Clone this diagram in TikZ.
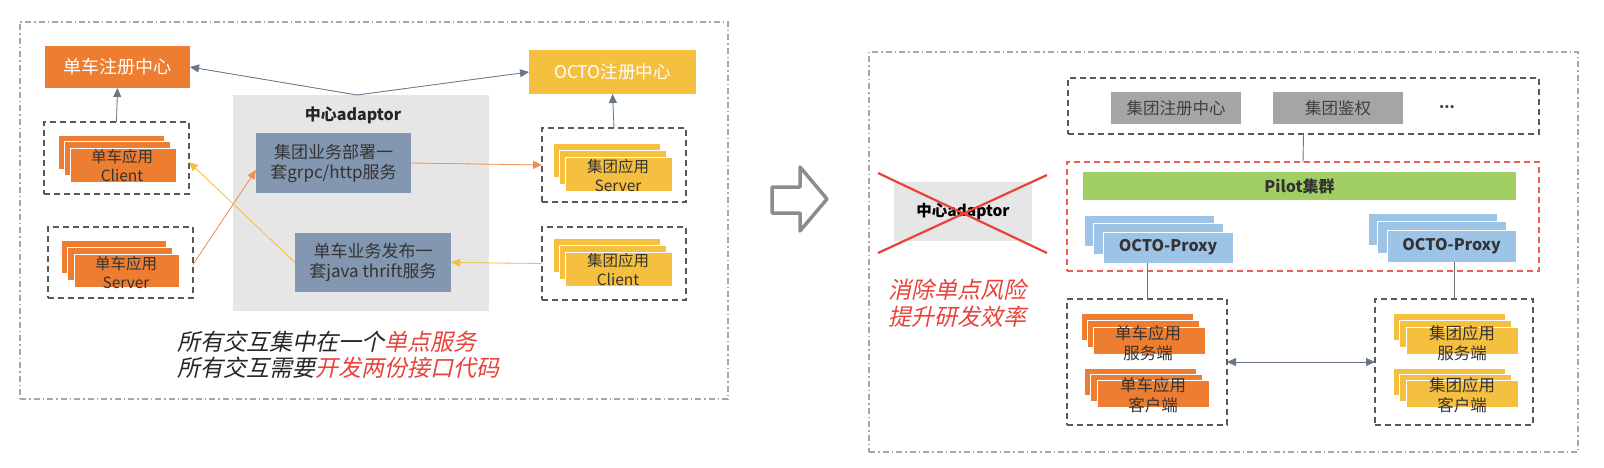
\documentclass[tikz,border=0pt]{standalone}
\usepackage{fontspec}
\setmainfont{Noto Sans CJK SC}
\newfontfamily\slfont{Noto Sans CJK SC}[FakeSlant=0.22]
\usetikzlibrary{arrows.meta}
\definecolor{orng}{HTML}{ED7D31}
\definecolor{gold}{HTML}{F5BF3F}
\definecolor{slate}{HTML}{8497B0}
\definecolor{adbg}{HTML}{E7E6E6}
\definecolor{gbox}{HTML}{A5A5A5}
\definecolor{pgreen}{HTML}{A2CF63}
\definecolor{lblue}{HTML}{9DC3E6}
\definecolor{redc}{HTML}{E8423A}
\definecolor{darkln}{HTML}{44546A}
\definecolor{txt}{HTML}{333333}
\newcommand\fs[2]{\fontsize{#1}{#2}\selectfont}
% stack: name, front-left x, front-top y, w, h, dx, dy, style
\newcommand\stk[8]{%
  \node[#8,anchor=north west,minimum width=#4,minimum height=#5] (#1b1) at ({#2-2*#6},{#3-2*#7}) {};
  \node[#8,anchor=north west,minimum width=#4,minimum height=#5] (#1b2) at ({#2-#6},{#3-#7}) {};
  \node[#8,anchor=north west,minimum width=#4,minimum height=#5] (#1) at (#2,#3) {};
}
\begin{document}
\begin{tikzpicture}[x=1pt,y=-1pt,
  box/.style={inner sep=0pt,outer sep=0pt},
  outerbox/.style={draw=black!35,line width=1.3pt,dash pattern=on 6pt off 3pt on 1.5pt off 3pt},
  dbox/.style={box,draw=black!65,line width=1.4pt,dash pattern=on 6pt off 4pt},
  ostk/.style={box,fill=orng,draw=white,line width=0.8pt},
  ystk/.style={box,fill=gold,draw=white,line width=0.8pt},
  bstk/.style={box,fill=lblue,draw=white,line width=0.8pt},
  stktxt/.style={text=txt,align=center,inner sep=0pt},
  arr/.style={-{Triangle[length=9pt,width=8pt]},line width=0.8pt},
  darr/.style={arr,draw=darkln!80,fill=darkln},
  oarr/.style={arr,draw=orng!85,fill=orng},
  yarr/.style={arr,draw=gold,fill=gold},
  gline/.style={draw=black!55,line width=0.9pt}
]
\useasboundingbox[fill=white] (0,0) rectangle (1604,468);

% ================= LEFT PANEL =================
\node[outerbox,box,anchor=north west,minimum width=708pt,minimum height=377pt] (lout) at (20,22) {};

\node[box,fill=orng,minimum width=145pt,minimum height=42pt,text=white,font=\fs{18}{20}] (lreg) at (117.5,67) {单车注册中心};
\node[box,fill=gold,minimum width=167pt,minimum height=44pt,text=white,font=\fs{17.5}{20}] (oreg) at (612.5,72) {OCTO注册中心};

\node[box,fill=adbg,minimum width=256pt,minimum height=216pt] (adapt) at (361,203) {};
\node[font=\bfseries\fs{16}{18},text=black!85,inner sep=0pt] (adtitle) at (353,115) {中心adaptor};
\node[box,fill=slate,minimum width=155pt,minimum height=60pt,align=center,text=txt,font=\fs{17}{20}] (grpc) at (333.5,163) {集团业务部署一\\套grpc/http服务};
\node[box,fill=slate,minimum width=156pt,minimum height=59pt,align=center,text=txt,font=\fs{17}{20}] (thrift) at (373,262.5) {单车业务发布一\\套java thrift服务};

% left client
\node[dbox,minimum width=145pt,minimum height=72pt] (lcli) at (116.5,158) {};
\stk{lclis}{70}{148}{106pt}{34pt}{6}{6.5}{ostk}
\node[stktxt,font=\fs{15.5}{19}] (lclit) at (122,166) {单车应用\\Client};
% left server
\node[dbox,minimum width=145pt,minimum height=71pt] (lsrv) at (120.5,262.5) {};
\stk{lsrvs}{74}{254}{105pt}{33pt}{6.5}{7}{ostk}
\node[stktxt,font=\fs{15.5}{19}] (lsrvt) at (126,272.5) {单车应用\\Server};
% right server
\node[dbox,minimum width=144pt,minimum height=74pt] (rsrv) at (614,165) {};
\stk{rsrvs}{565}{157}{107pt}{34pt}{6}{7}{ystk}
\node[stktxt,font=\fs{15.5}{19}] (rsrvt) at (618,176) {集团应用\\Server};
% right client
\node[dbox,minimum width=144pt,minimum height=73pt] (rcli) at (614,263.5) {};
\stk{rclis}{565}{252}{107pt}{34pt}{6}{7}{ystk}
\node[stktxt,font=\fs{15.5}{19}] (rclit) at (618,270) {集团应用\\Client};

% connectors
\coordinate (adtop) at (357,95);
\draw[darr] (adtop) -- (lreg.east);
\draw[darr] (adtop) -- (oreg.west);
\draw[darr] (lcli.north) -- (lreg.south);
\draw[darr] (rsrv.north) -- (oreg.south);
\draw[oarr] (grpc.east) -- (rsrv.west);
\draw[oarr] ([yshift=-2pt]lsrv.east) -- ([yshift=-7pt]grpc.west);
\draw[yarr] (thrift.west) -- ([yshift=-4pt]lcli.east);
\draw[yarr] (rcli.west) -- (thrift.east);

\node[anchor=west,inner sep=0pt,font=\slfont\fs{23}{26},text=black!85] (msg1) at (177,342) {所有交互集中在一个\textcolor{redc}{单点服务}};
\node[anchor=west,inner sep=0pt,font=\slfont\fs{23}{26},text=black!85] (msg2) at (177,368) {所有交互需要\textcolor{redc}{开发两份接口代码}};

% ================= HOLLOW ARROW =================
\draw[draw=black!45,line width=3.5pt,line join=round,fill=white]
  (772,187) -- (800,187) -- (800,167) -- (827,199) -- (800,231) -- (800,213) -- (772,213) -- cycle;

% ================= RIGHT PANEL =================
\node[outerbox,box,anchor=north west,minimum width=709pt,minimum height=400pt] (rout) at (869,52) {};

\node[box,fill=adbg,minimum width=138pt,minimum height=59pt,font=\bfseries\fs{15.5}{18},text=black] (xad) at (963,211.5) {中心adaptor};
\coordinate (x1) at (878,173); \coordinate (x2) at (1047,253);
\coordinate (x3) at (878,253); \coordinate (x4) at (1047,175);
\draw[redc,line width=2.2pt] (x1) -- (x2);
\draw[redc,line width=2.2pt] (x3) -- (x4);
\node[inner sep=0pt,align=center,font=\slfont\fs{23}{27},text=redc] (gain) at (957,303.5) {消除单点风险\\提升研发效率};

\node[dbox,minimum width=471pt,minimum height=56pt] (topbox) at (1303.5,106) {};
\node[box,fill=gbox,minimum width=130pt,minimum height=32pt,text=black!75,font=\fs{16.5}{19}] (greg) at (1176,108) {集团注册中心};
\node[box,fill=gbox,minimum width=130pt,minimum height=32pt,text=black!75,font=\fs{16.5}{19}] (gauth) at (1338,108) {集团鉴权};
\node[inner sep=0pt,font=\bfseries\fs{15}{18},text=black!75] (dots) at (1447,107) {...};

\node[box,draw=redc!85,line width=1.4pt,dash pattern=on 6pt off 4pt,minimum width=472pt,minimum height=109pt] (redbox) at (1303,216.5) {};
\node[box,fill=pgreen,minimum width=433pt,minimum height=28pt,font=\bfseries\fs{16}{18},text=txt] (pilot) at (1299.5,186) {Pilot集群};
\stk{pxl}{1103}{232}{130pt}{31pt}{9.5}{8.5}{bstk}
\node[inner sep=0pt,font=\bfseries\fs{16}{18},text=txt] (pxlt) at (pxl.center) {OCTO-Proxy};
\stk{pxr}{1387}{230}{129pt}{32pt}{9.5}{8.5}{bstk}
\node[inner sep=0pt,font=\bfseries\fs{16}{18},text=txt] (pxrt) at (pxr.center) {OCTO-Proxy};

\node[dbox,minimum width=160pt,minimum height=126pt] (lb) at (1147,362) {};
\node[dbox,minimum width=158pt,minimum height=126pt] (rb) at (1454,362) {};

\stk{lbs}{1093}{327}{112pt}{27pt}{6}{7}{ostk}
\node[stktxt,font=\fs{16.5}{20}] (lbst) at (1148,343) {单车应用\\服务端};
\stk{lbc}{1097}{380}{112pt}{27pt}{6.5}{6}{ostk}
\node[stktxt,font=\fs{16.5}{20}] (lbct) at (1153,395) {单车应用\\客户端};
\stk{rbs}{1406}{327}{112pt}{27pt}{6.5}{7}{ystk}
\node[stktxt,font=\fs{16.5}{20}] (rbst) at (1462,343) {集团应用\\服务端};
\stk{rbc}{1406}{380}{112pt}{27pt}{6.5}{6}{ystk}
\node[stktxt,font=\fs{16.5}{20}] (rbct) at (1462,395) {集团应用\\客户端};

\draw[gline] (topbox.south) -- (redbox.north);
\draw[gline] (lb.north) -- (lb.north |- pxl.south);
\draw[gline] (rb.north) -- (rb.north |- pxr.south);
\draw[darr,{Triangle[length=9pt,width=8pt]}-{Triangle[length=9pt,width=8pt]}] (lb.east) -- (rb.west);
\end{tikzpicture}
\end{document}
